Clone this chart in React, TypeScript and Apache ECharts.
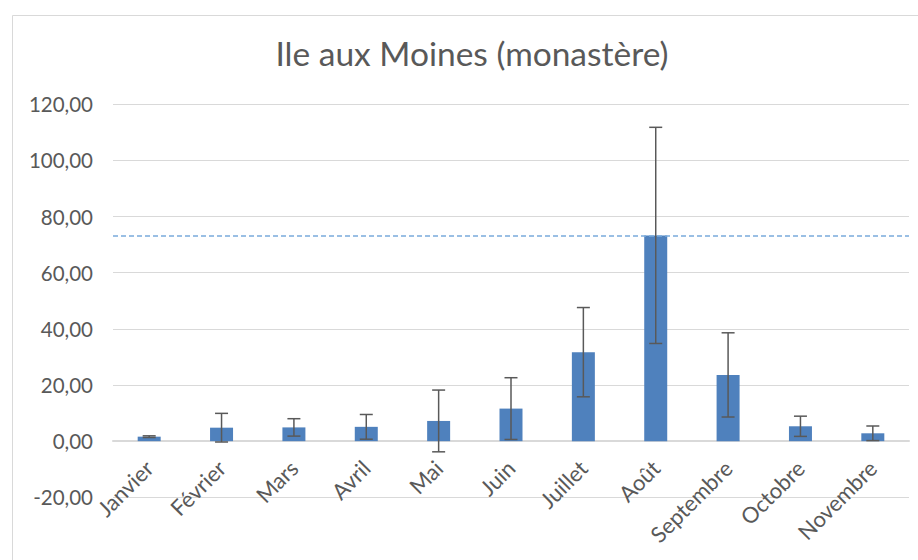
import React, { useEffect, useRef } from "react";
import * as echarts from "echarts";

const titleText = "Ile aux Moines (monastère)";
const months = ["Janvier", "Février", "Mars", "Avril", "Mai", "Juin", "Juillet", "Août", "Septembre", "Octobre", "Novembre"];
const means = [1.6, 4.8, 4.9, 5.1, 7.2, 11.6, 31.7, 73.3, 23.6, 5.3, 2.8];
const errors = [0.3, 5.1, 3.1, 4.4, 11.0, 11.0, 15.9, 38.5, 15.0, 3.6, 2.6];
const refLineValue = [73.3];
const yTicks = { min: -20, max: 120, interval: 20 };

const TEXT = "#595959";
const FONT = "Lato";

export default function App() {
  const ref = useRef<HTMLDivElement>(null);
  useEffect(() => {
    if (!ref.current) return;
    const chart = echarts.init(ref.current, undefined, { renderer: "svg" });
    const errData = means.map((m, i) => [i, m - errors[i], m + errors[i]]);
    const gridTop = 104.3;
    const gridBottom = 62.7;
    const gridH = 560 - gridTop - gridBottom;
    const zeroOffset = -gridH * (0 - yTicks.min) / (yTicks.max - yTicks.min);
    chart.setOption({
      animation: false,
      backgroundColor: "#ffffff",
      title: {
        text: titleText,
        left: 467,
        top: 31,
        textAlign: "center",
        textStyle: { color: TEXT, fontFamily: FONT, fontSize: 33.5, fontWeight: "normal" },
      },
      graphic: [
        {
          type: "rect",
          shape: { x: 12.5, y: 15.5, width: 1000, height: 1000 },
          style: { fill: "none", stroke: "#d9d9d9", lineWidth: 1 },
          silent: true,
        },
      ],
      grid: { left: 113, right: 9, top: gridTop, bottom: gridBottom, containLabel: false, outerBoundsMode: "none" },
      xAxis: {
        type: "category",
        data: months,
        offset: zeroOffset,
        axisLine: { onZero: false, lineStyle: { color: "#d9d9d9", width: 2 } },
        axisTick: { show: false },
        axisLabel: { rotate: 45, margin: 23, color: TEXT, fontFamily: FONT, fontSize: 22, interval: 0 },
        splitLine: { show: false },
      },
      yAxis: {
        type: "value",
        min: yTicks.min,
        max: yTicks.max,
        interval: yTicks.interval,
        axisLine: { show: false },
        axisTick: { show: false },
        axisLabel: {
          color: TEXT,
          fontFamily: FONT,
          fontSize: 20.5,
          margin: 20,
          formatter: (v: number) => v.toFixed(2).replace(".", ","),
        },
        splitLine: { lineStyle: { color: "#d9d9d9", width: 1 } },
      },
      series: [
        {
          type: "bar",
          data: means,
          barWidth: 23,
          itemStyle: { color: "#4F81BD" },
          markLine: {
            silent: true,
            symbol: ["none", "none"],
            label: { show: false },
            lineStyle: { color: "#7AAADC", type: [5, 3], width: 1.5 },
            data: [{ yAxis: refLineValue[0] }],
          },
        },
        {
          type: "custom",
          data: errData,
          z: 5,
          renderItem: (params: any, api: any) => {
            const idx = api.value(0);
            const lo = api.coord([idx, api.value(1)]);
            const hi = api.coord([idx, api.value(2)]);
            const half = 6.5;
            const style = { stroke: "#595959", lineWidth: 1.5 };
            return {
              type: "group",
              children: [
                { type: "line", shape: { x1: hi[0], y1: hi[1], x2: lo[0], y2: lo[1] }, style },
                { type: "line", shape: { x1: hi[0] - half, y1: hi[1], x2: hi[0] + half, y2: hi[1] }, style },
                { type: "line", shape: { x1: lo[0] - half, y1: lo[1], x2: lo[0] + half, y2: lo[1] }, style },
              ],
            };
          },
        },
      ],
    });
    return () => chart.dispose();
  }, []);
  return (
    <div
      ref={ref}
      style={{ position: "absolute", left: 0, top: 0, width: 918, height: 560 }}
    />
  );
}
